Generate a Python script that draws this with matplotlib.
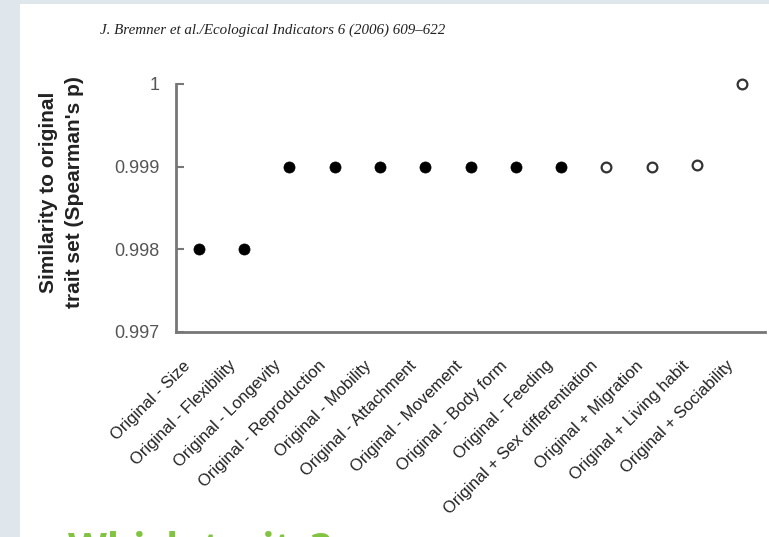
import matplotlib
matplotlib.use("Agg")
import matplotlib.pyplot as plt
from matplotlib.patches import Rectangle
from matplotlib.transforms import ScaledTranslation

# Trait-set variants and their similarity to the original trait set
categories = [
    "Original - Size", "Original - Flexibility", "Original - Longevity",
    "Original - Reproduction", "Original - Mobility", "Original - Attachment",
    "Original - Movement", "Original - Body form", "Original - Feeding",
    "Original + Sex differentiation", "Original + Migration",
    "Original + Living habit", "Original + Sociability",
]
similarity = [0.998, 0.998, 0.999, 0.999, 0.999, 0.999, 0.999, 0.999, 0.999,
              0.999, 0.999, 0.99902, 1.0]
removed = [True] * 9 + [False] * 4   # trait removed (filled) vs. added (open)

y_ticks = [0.997, 0.998, 0.999, 1.0]
y_tick_labels = ["0.997", "0.998", "0.999", "1"]

W, H, DPI = 769, 537, 100
fig = plt.figure(figsize=(W / DPI, H / DPI), dpi=DPI)
fig.patch.set_facecolor("white")

# slide frame strips
fig.patches.append(Rectangle((0, 0), 20 / W, 1, transform=fig.transFigure,
                             facecolor="#dfe7ec", edgecolor="none", zorder=0))
fig.patches.append(Rectangle((0, 1 - 4 / H), 1, 4 / H, transform=fig.transFigure,
                             facecolor="#dfe7ec", edgecolor="none", zorder=0))

ax = fig.add_axes([176 / W, 1 - 332 / H, (765 - 176) / W, (332 - 84) / H])
ax.set_facecolor("none")

xs = list(range(len(categories)))
for x, v, filled in zip(xs, similarity, removed):
    if filled:
        ax.plot(x, v, "o", ms=8, mfc="black", mec="black", mew=0.5, clip_on=False)
    else:
        ax.plot(x, v, "o", ms=7, mfc="white", mec="#333333", mew=1.6, clip_on=False)

ax.set_xlim(-0.5, len(categories) - 0.5)
ax.set_ylim(0.997, 1.0)
ax.set_yticks(y_ticks)
ax.set_yticklabels(y_tick_labels, fontsize=13, color="#555555",
                   family=["Liberation Sans", "DejaVu Sans"])
ax.set_xticks(xs)
ax.set_xticklabels(categories, rotation=45, ha="right", va="top",
                   rotation_mode="anchor", fontsize=12, color="#222222",
                   family=["Liberation Sans", "DejaVu Sans"])
ax.tick_params(axis="y", direction="in", length=6, width=1.5, color="#777777", pad=12)
ax.tick_params(axis="x", length=0, pad=10)

# nudge the slanted category labels down-left of their ticks
shift = ScaledTranslation(-0.16, -0.12, fig.dpi_scale_trans)
for lbl in ax.get_xticklabels():
    lbl.set_transform(lbl.get_transform() + shift)

for side in ("top", "right"):
    ax.spines[side].set_visible(False)
for side in ("left", "bottom"):
    ax.spines[side].set_color("#777777")
    ax.spines[side].set_linewidth(2)

ax.set_ylabel("Similarity to original\ntrait set (Spearman's p)", fontsize=15,
              fontweight="bold", color="#222222", linespacing=1.45,
              family=["Liberation Sans", "DejaVu Sans"])
ax.yaxis.set_label_coords(-0.157, 0.565)

fig.text(273 / W, 1 - 30 / H,
         "J. Bremner et al./Ecological Indicators 6 (2006) 609\u2013622",
         ha="center", va="center", fontsize=10.8, style="italic",
         family=["Liberation Serif", "DejaVu Serif"], color="#222222")

fig.text(68 / W, 1 - 531 / H, "Which traits?", ha="left", va="top",
         fontsize=29, fontweight="bold", color="#82c341",
         family=["Open Sans", "DejaVu Sans"])

fig.savefig("out.png", dpi=DPI)
